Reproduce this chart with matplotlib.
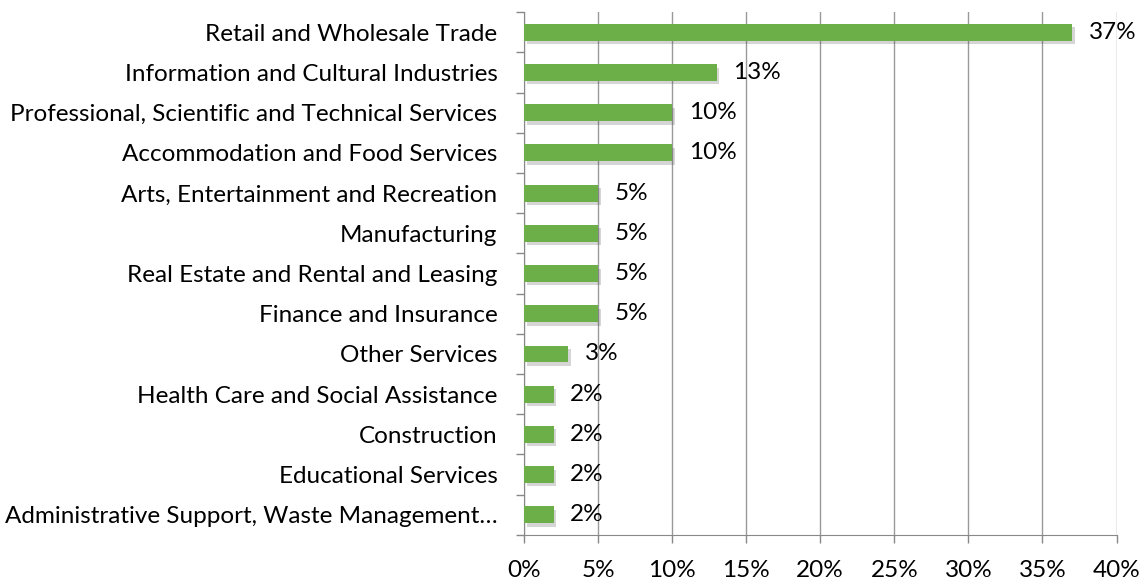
import matplotlib
matplotlib.use("Agg")
import matplotlib.pyplot as plt
import matplotlib.patheffects as pe
import numpy as np

plt.rcParams['font.family'] = ['Lato', 'DejaVu Sans']

# data, top to bottom as in the chart
industries = [
    "Retail and Wholesale Trade",
    "Information and Cultural Industries",
    "Professional, Scientific and Technical Services",
    "Accommodation and Food Services",
    "Arts, Entertainment and Recreation",
    "Manufacturing",
    "Real Estate and Rental and Leasing",
    "Finance and Insurance",
    "Other Services",
    "Health Care and Social Assistance",
    "Construction",
    "Educational Services",
    "Administrative Support, Waste Management\u2026",
]
shares = [37, 13, 10, 10, 5, 5, 5, 5, 3, 2, 2, 2, 2]
xticks = [0, 5, 10, 15, 20, 25, 30, 35, 40]

fig = plt.figure(figsize=(11.44, 5.82), dpi=100)
ax = fig.add_axes([0.458, 0.081, 0.518, 0.898])

y = np.arange(len(industries))
bars = ax.barh(y, shares, height=0.42, color="#6cae48", zorder=3)
for b in bars:
    b.set_path_effects([pe.SimplePatchShadow(offset=(2, -2.5), shadow_rgbFace="#444444", alpha=0.22),
                        pe.Normal()])

for yi, v in zip(y, shares):
    ax.annotate(f"{v}%", (v, yi), xytext=(12, 0), textcoords="offset points",
                va="center", ha="left", fontsize=17.5, color="black", zorder=4)

ax.set_xlim(0, 40)
ax.set_ylim(len(industries) - 0.5, -0.5)
ax.set_xticks(xticks)
ax.set_xticklabels([f"{t}%" for t in xticks], fontsize=17.5)
ax.set_yticks(y)
ax.set_yticklabels(industries, fontsize=17.5)
ax.set_yticks(np.arange(len(industries) + 1) - 0.5, minor=True)

ax.tick_params(axis="y", which="major", length=0, pad=19)
ax.tick_params(axis="y", which="minor", length=6, color="#888888", width=1)
ax.tick_params(axis="x", length=6, color="#888888", width=1, pad=12)

ax.grid(axis="x", color="#999999", linewidth=1, zorder=0)
for s in ["top", "right"]:
    ax.spines[s].set_visible(False)
ax.spines["left"].set_color("#888888")
ax.spines["bottom"].set_color("#888888")

fig.savefig("out.png", dpi=100)
